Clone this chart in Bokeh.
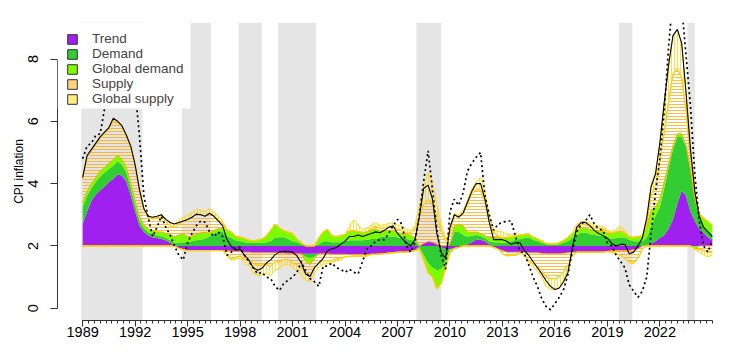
import numpy as np
from bokeh.plotting import figure
from bokeh.models import Range1d, FixedTicker, BoxAnnotation, Legend, LegendItem
from bokeh.embed import file_html
from bokeh.resources import INLINE

# ---------------- data (quarterly, starting 1989 Q1) ----------------
FIRST_YEAR = 1989.0

trend = [
    0.70, 1.10, 1.45, 1.65,  1.78, 1.90, 2.05, 2.15,  2.30, 2.25, 2.05, 1.62,
    1.10, 0.65, 0.45, 0.33,  0.28, 0.25, 0.22, 0.18,  0.10, 0.02, -0.08, -0.12,
    -0.15, -0.15, -0.15, -0.15,  -0.15, -0.15, -0.15, -0.15,  -0.15, -0.15, -0.17, -0.18,
    -0.18, -0.20, -0.20, -0.22,  -0.22, -0.22, -0.22, -0.22,  -0.22, -0.22, -0.24, -0.25,
    -0.25, -0.25, -0.25, -0.25,  -0.25, -0.25, -0.25, -0.25,  -0.25, -0.27, -0.27, -0.27,
    -0.27, -0.28, -0.28, -0.28,  -0.28, -0.28, -0.27, -0.27,  -0.26, -0.25, -0.23, -0.22,
    -0.20, -0.20, -0.20, -0.18,  -0.15, 0.00, 0.08, 0.14,  0.12, 0.05, -0.05, -0.10,
    -0.10, -0.08, -0.05, 0.00,  0.05, 0.12, 0.20, 0.20,  0.15, 0.05, -0.05, -0.10,
    -0.15, -0.20, -0.20, -0.20,  -0.20, -0.20, -0.22, -0.22,  -0.22, -0.24, -0.25, -0.25,
    -0.25, -0.25, -0.24, -0.22,  -0.20, -0.20, -0.20, -0.20,  -0.20, -0.20, -0.20, -0.20,
    -0.18, -0.15, -0.15, -0.15,  -0.15, -0.15, -0.12, -0.10,  0.00, 0.02, 0.08, 0.15,
    0.25, 0.35, 0.55, 0.85,  1.35, 1.78, 1.60, 1.10,  0.80, 0.55, 0.42, 0.28,
    0.17,
]

demand = [
    0.55, 0.50, 0.40, 0.40,  0.45, 0.45, 0.42, 0.42,  0.42, 0.35, 0.30, 0.25,
    0.20, 0.15, 0.12, 0.10,  0.10, 0.08, 0.08, 0.08,  0.08, 0.08, 0.10, 0.12,
    0.12, 0.15, 0.18, 0.20,  0.23, 0.30, 0.40, 0.45,  0.45, 0.32, 0.25, 0.18,
    0.15, 0.12, 0.10, 0.10,  0.10, 0.10, 0.12, 0.15,  0.27, 0.28, 0.28, 0.22,
    0.15, 0.12, 0.05, -0.10,  -0.15, -0.10, 0.05, 0.15,  0.15, 0.12, 0.12, 0.12,
    0.15, 0.18, 0.18, 0.18,  0.18, 0.20, 0.22, 0.22,  0.28, 0.30, 0.30, 0.30,
    0.28, 0.25, 0.22, 0.20,  0.15, -0.05, -0.30, -0.55,  -0.70, -0.78, -0.70, -0.40,
    0.05, 0.45, 0.45, 0.35,  0.25, 0.20, 0.15, 0.12,  0.10, 0.10, 0.12, 0.12,
    0.10, 0.12, 0.15, 0.20,  0.22, 0.25, 0.28, 0.20,  0.15, 0.10, 0.05, 0.03,
    0.03, 0.05, 0.10, 0.15,  0.25, 0.35, 0.42, 0.42,  0.38, 0.35, 0.33, 0.32,
    0.28, 0.23, 0.25, 0.28,  0.25, 0.20, 0.15, 0.15,  0.15, 0.25, 0.55, 0.80,
    1.00, 1.50, 1.95, 2.25,  2.15, 1.72, 1.58, 1.32,  0.70, 0.35, 0.22, 0.20,
    0.20,
]

global_demand = [
    0.15, 0.15, 0.15, 0.15,  0.17, 0.17, 0.18, 0.20,  0.20, 0.18, 0.15, 0.15,
    0.15, 0.12, 0.10, 0.10,  0.12, 0.12, 0.15, 0.15,  0.18, 0.20, 0.25, 0.28,
    0.16, 0.17, 0.20, 0.22,  0.20, 0.12, 0.10, 0.10,  0.12, 0.20, 0.20, 0.12,
    0.13, 0.12, 0.08, 0.07,  0.08, 0.12, 0.20, 0.35,  0.43, 0.30, 0.21, 0.22,
    0.25, 0.10, 0.05, -0.15,  -0.20, -0.05, 0.20, 0.30,  0.38, 0.20, 0.18, 0.20,
    0.22, 0.30, 0.30, 0.28,  0.25, 0.25, 0.30, 0.33,  0.20, 0.20, 0.20, 0.20,
    0.15, 0.15, 0.15, 0.15,  0.10, -0.05, -0.15, -0.30,  -0.30, -0.60, -0.45, -0.20,
    -0.10, 0.20, 0.25, 0.30,  0.15, 0.12, 0.10, 0.08,  0.08, 0.12, 0.15, 0.15,
    0.15, 0.15, 0.13, 0.13,  0.12, 0.12, 0.10, 0.08,  0.08, 0.06, 0.03, 0.03,
    0.03, 0.05, 0.08, 0.12,  0.15, 0.15, 0.16, 0.16,  0.15, 0.15, 0.15, 0.15,
    0.14, 0.16, 0.20, 0.20,  0.15, 0.10, 0.12, 0.15,  0.15, 0.35, 0.50, 0.30,
    0.25, 0.20, 0.15, 0.12,  0.10, 0.10, 0.05, 0.05,  -0.10, 0.15, 0.25, 0.30,
    0.30,
]

supply = [
    0.75, 1.10, 1.05, 1.05,  1.05, 1.08, 1.10, 1.28,  1.03, 1.02, 1.00, 1.13,
    1.10, 0.83, 0.48, 0.37,  0.37, 0.45, 0.47, 0.36,  0.29, 0.30, 0.36, 0.37,
    0.57, 0.60, 0.64, 0.58,  0.52, 0.63, 0.48, 0.30,  0.15, -0.12, -0.25, -0.18,
    -0.15, -0.22, -0.25, -0.35,  -0.40, -0.40, -0.38, -0.43,  -0.30, -0.30, -0.20, -0.20,
    -0.30, -0.35, -0.45, -0.40,  -0.35, -0.30, -0.28, -0.22,  -0.22, -0.20, -0.15, -0.12,
    -0.08, -0.06, -0.05, -0.05,  -0.05, -0.04, 0.05, 0.08,  0.08, 0.08, 0.10, 0.12,
    0.10, 0.10, 0.05, 0.05,  0.30, 0.90, 1.25, 1.35,  1.20, 0.90, 0.50, 0.15,
    0.35, 0.35, 0.25, 0.40,  0.90, 1.25, 1.35, 1.40,  1.10, 0.50, 0.15, 0.05,
    -0.10, -0.12, -0.10, -0.10,  -0.02, -0.10, -0.25, -0.35,  -0.45, -0.55, -0.75, -0.80,
    -0.80, -0.75, -0.60, -0.40,  -0.10, 0.05, 0.10, 0.10,  0.10, 0.08, 0.08, 0.08,
    0.05, -0.05, -0.10, -0.15,  -0.25, -0.35, -0.40, -0.30,  -0.10, 0.10, 0.50, 0.70,
    1.20, 1.60, 2.00, 2.30,  2.10, 1.80, 1.10, 0.45,  0.20, -0.10, -0.15, -0.20,
    -0.20,
]

global_supply = [
    0.05, 0.05, 0.05, 0.05,  0.05, 0.05, 0.05, 0.05,  0.05, 0.05, 0.05, 0.05,
    0.05, 0.05, 0.05, 0.05,  0.05, 0.05, 0.08, 0.08,  0.10, 0.10, 0.12, 0.15,
    0.15, 0.15, 0.15, 0.15,  0.15, 0.15, 0.12, 0.10,  0.08, -0.05, -0.05, -0.07,
    -0.05, -0.12, -0.18, -0.30,  -0.34, -0.32, -0.27, -0.30,  -0.25, -0.22, -0.15, -0.15,
    -0.15, -0.20, -0.25, -0.20,  -0.20, -0.15, -0.15, -0.12,  -0.10, -0.08, -0.06, -0.06,
    0.00, 0.15, 0.35, 0.20,  0.10, 0.12, 0.10, 0.12,  0.10, 0.10, 0.12, 0.12,
    0.15, 0.12, 0.10, 0.10,  0.10, 0.40, 0.60, 0.85,  0.70, 0.40, 0.20, 0.05,
    0.10, 0.05, 0.05, 0.10,  0.10, 0.15, 0.25, 0.40,  0.30, 0.20, 0.10, 0.15,
    0.20, 0.10, 0.08, 0.08,  0.00, 0.00, -0.05, -0.10,  -0.15, -0.20, -0.30, -0.35,
    -0.35, -0.35, -0.25, -0.10,  0.00, 0.15, 0.10, 0.10,  0.10, 0.08, 0.08, 0.07,
    0.05, 0.05, 0.10, 0.15,  0.10, -0.05, -0.05, 0.00,  0.05, 0.15, 0.35, 0.45,
    0.60, 0.95, 1.15, 1.23,  1.25, 1.10, 0.60, 0.20,  0.05, -0.10, -0.15, -0.15,
    -0.10,
]

# solid black line
model_inflation = [
    4.20, 4.90, 5.10, 5.30,  5.50, 5.65, 5.80, 6.10,  6.00, 5.85, 5.55, 5.20,
    4.60, 3.80, 3.20, 2.95,  2.92, 2.95, 3.00, 2.85,  2.75, 2.70, 2.75, 2.80,
    2.85, 2.92, 3.02, 3.00,  2.95, 3.05, 2.95, 2.80,  2.65, 2.20, 1.98, 1.87,
    1.90, 1.70, 1.55, 1.30,  1.22, 1.28, 1.45, 1.55,  1.72, 1.80, 1.83, 1.82,
    1.80, 1.68, 1.45, 1.10,  1.02, 1.30, 1.45, 1.60,  1.85, 1.90, 1.95, 2.05,
    2.15, 2.30, 2.30, 2.35,  2.30, 2.35, 2.40, 2.45,  2.42, 2.50, 2.60, 2.65,
    2.40, 2.25, 2.10, 2.00,  2.20, 2.95, 3.85, 3.95,  3.50, 2.40, 1.78, 1.60,
    2.60, 3.00, 2.92, 3.05,  3.40, 3.75, 4.00, 4.00,  3.50, 2.75, 2.20, 2.20,
    2.20, 2.15, 2.05, 2.10,  2.10, 1.85, 1.70, 1.50,  1.30, 1.10, 0.88, 0.70,
    0.60, 0.65, 0.85, 1.15,  1.95, 2.60, 2.75, 2.75,  2.65, 2.50, 2.40, 2.33,
    2.25, 2.08, 2.00, 2.05,  2.05, 1.75, 1.80, 2.00,  2.25, 2.90, 3.90, 4.30,
    5.30, 6.60, 7.80, 8.75,  8.95, 8.50, 6.90, 5.10,  3.75, 2.95, 2.60, 2.45,
    2.30,
]

# dotted line (headline CPI inflation)
cpi = [
    4.80, 5.20, 5.30, 5.55,  5.60, 6.40, 7.50, 8.30,  8.80, 9.00, 8.50, 7.80,
    7.00, 5.50, 3.60, 2.90,  2.30, 2.60, 2.95, 2.60,  2.35, 2.00, 1.70, 1.55,
    2.10, 2.40, 2.65, 2.80,  2.76, 2.45, 2.30, 2.45,  2.30, 1.70, 1.80, 1.95,
    1.95, 1.70, 1.50, 1.30,  1.10, 1.15, 1.00, 0.95,  0.70, 0.57, 0.80, 0.90,
    1.00, 1.15, 1.50, 1.20,  0.95, 0.85, 0.70, 1.35,  1.35, 1.45, 1.30, 1.25,
    1.15, 1.25, 1.15, 1.10,  1.50, 1.90, 2.00, 2.15,  2.20, 2.20, 2.40, 2.65,
    2.85, 2.70, 2.00, 1.80,  2.10, 3.00, 4.10, 5.05,  3.80, 2.50, 1.70, 1.25,
    3.10, 3.50, 3.30, 3.70,  4.40, 4.65, 4.85, 5.00,  3.60, 3.00, 2.50, 2.70,
    2.75, 2.80, 2.80, 2.30,  1.85, 1.75, 1.40, 1.00,  0.70, 0.30, 0.05, -0.05,
    0.15, 0.35, 0.60, 1.10,  1.85, 2.45, 2.70, 2.80,  3.00, 2.70, 2.55, 2.50,
    2.10, 2.00, 1.70, 1.50,  1.30, 0.75, 0.55, 0.35,  0.55, 1.00, 2.40, 3.70,
    4.80, 6.30, 8.40, 10.00,  10.30, 9.70, 8.10, 6.50,  4.30, 2.80, 2.00, 1.80,
    2.20,
]

# shaded periods
band_start = [1988.92, 1994.67, 1997.92, 2000.17, 2008.08, 2019.67, 2023.58]
band_end = [1992.42, 1996.33, 1999.25, 2002.33, 2009.50, 2020.42, 2024.00]

# axis ticks
label_years = list(range(1989, 2023, 3))
minor_years = [1989 + k / 3 for k in range(0, 3 * 36 + 1)]
y_ticks = [0, 2, 4, 6, 8]
BASELINE = 2.0

# ---------------- styling / layout ----------------
FONT = "Liberation Sans"
C_TREND = "#A020F0"
C_DEM = "#32CD32"
C_GDEM = "#7CFC00"
C_SUP = "#FFA500"
C_GSUP = "#FFD700"
C_BAND = "#E5E5E5"

X0, X1 = 1987.56, 2026.44
Y0, Y1 = -0.395, 9.172
# white legend panel, upper-left corner of the plotting region
LEGEND_RIGHT = 1995.17
LEGEND_BOTTOM = 6.41

n = len(trend)
quarters = FIRST_YEAR + np.arange(n) / 4.0

p = figure(width=744, height=354,
           x_range=Range1d(X0, X1), y_range=Range1d(Y0, Y1),
           output_backend="svg", toolbar_location=None,
           min_border_left=57, min_border_right=7, min_border_top=22, min_border_bottom=34)
p.outline_line_color = None
p.grid.visible = False
p.background_fill_color = "white"
p.border_fill_color = "white"

for s, e in zip(band_start, band_end):
    p.add_layout(BoxAnnotation(left=s, right=e, fill_color=C_BAND, fill_alpha=1.0,
                               line_color=None, level="underlay"))

# stacked components (positive parts upward, negative parts downward from 2)
comps = [np.asarray(c, dtype=float) for c in (trend, demand, global_demand, supply, global_supply)]
pos = np.full(n, BASELINE)
neg = np.full(n, BASELINE)
bounds = []
for c in comps:
    cp = np.clip(c, 0, None)
    cn = np.clip(c, None, 0)
    bounds.append([(pos.copy(), pos + cp), (neg + cn, neg.copy())])
    pos = pos + cp
    neg = neg + cn

for idx, col in enumerate([C_TREND, C_DEM, C_GDEM]):
    for lo, hi in bounds[idx]:
        p.varea(x=quarters, y1=lo, y2=hi, fill_color=col, fill_alpha=1.0)

for idx, col, pat in [(3, C_SUP, "horizontal_line"), (4, C_GSUP, "vertical_line")]:
    for lo, hi in bounds[idx]:
        p.varea(x=quarters, y1=lo, y2=hi, fill_color=None, fill_alpha=0,
                hatch_pattern=pat, hatch_color=col, hatch_scale=3, hatch_weight=1,
                hatch_alpha=0.75)
        p.line(quarters, lo, line_color=col, line_width=1, line_alpha=0.9)
        p.line(quarters, hi, line_color=col, line_width=1, line_alpha=0.9)

p.line(quarters, model_inflation, line_color="black", line_width=1.1)
p.line(quarters, cpi, line_color="black", line_width=1.7, line_dash="2 3")

# white panel behind the legend (hides lines like the original)
p.add_layout(BoxAnnotation(left=X0, right=LEGEND_RIGHT, bottom=LEGEND_BOTTOM, top=Y1,
                           fill_color="white", fill_alpha=1.0, line_color=None,
                           level="guide"))

# axes
xa = p.xaxis[0]
xa.ticker = FixedTicker(ticks=label_years, minor_ticks=minor_years)
xa.bounds = (1989, 2025)
xa.axis_line_color = "#333333"
xa.major_tick_line_color = "#333333"
xa.minor_tick_line_color = "#333333"
xa.major_tick_out = 6
xa.major_tick_in = 0
xa.minor_tick_out = 3
xa.minor_tick_in = 0
xa.major_label_standoff = 0
xa.major_label_text_font = FONT
xa.major_label_text_font_size = "14.5px"
xa.major_label_text_color = "black"

ya = p.yaxis[0]
ya.ticker = FixedTicker(ticks=y_ticks, minor_ticks=[])
ya.bounds = (0, 8)
ya.axis_line_color = "#333333"
ya.major_tick_line_color = "#333333"
ya.major_tick_out = 7
ya.major_tick_in = 0
ya.minor_tick_line_color = None
ya.major_label_orientation = "vertical"
ya.major_label_standoff = 12
ya.major_label_text_font = FONT
ya.major_label_text_font_size = "14.5px"
ya.major_label_text_color = "black"
ya.axis_label = "CPI inflation"
ya.axis_label_standoff = 0
ya.axis_label_text_font = FONT
ya.axis_label_text_font_size = "12px"
ya.axis_label_text_font_style = "normal"
ya.axis_label_text_color = "black"

# legend (proxy renderers hold a single undefined point so only the key is drawn)
legend_entries = [("Trend", C_TREND), ("Demand", C_DEM), ("Global demand", C_GDEM),
                  ("Supply", "#FFD27F"), ("Global supply", "#FFEB7F")]
items = []
for label, col in legend_entries:
    r = p.quad(left=[np.nan], right=[np.nan], top=[np.nan], bottom=[np.nan],
               fill_color=col, line_color="#333333", line_width=1)
    items.append(LegendItem(label=label, renderers=[r], index=0))
leg = Legend(items=items, location="top_left", margin=9, padding=0, spacing=-2,
             glyph_width=12, glyph_height=12, label_standoff=14, label_height=14,
             label_text_font=FONT, label_text_font_size="13.5px",
             background_fill_alpha=0.0, border_line_color=None)
p.add_layout(leg)

open("out.html", "w").write(file_html(p, INLINE))
